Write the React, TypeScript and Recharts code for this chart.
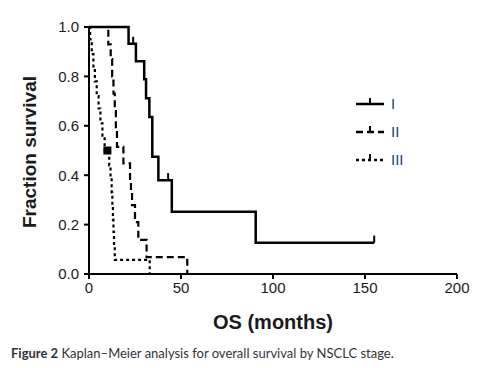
import { LineChart, Line, XAxis, YAxis, Legend } from 'recharts';

// Kaplan–Meier curves (months, survival fraction)
const STAGE_I_MONTHS = [0, 21.5, 25.5, 30, 31, 32.8, 34.4, 37.7, 45, 90.6];
const STAGE_I_SURV = [1, 0.932, 0.861, 0.788, 0.712, 0.636, 0.475, 0.38, 0.252, 0.127];
const STAGE_I_CENSORED = [24, 43, 155];

const STAGE_II_MONTHS = [0, 10.5, 11.8, 12.6, 13.3, 14, 14.6, 15.2, 18.7, 22.3, 22.8, 23.4, 25, 26.8, 31.3, 53.4];
const STAGE_II_SURV = [1, 0.93, 0.87, 0.8, 0.73, 0.66, 0.59, 0.515, 0.448, 0.38, 0.33, 0.279, 0.21, 0.138, 0.068, 0];
const STAGE_II_CENSORED: number[] = [];

const STAGE_III_MONTHS = [0, 0.6, 1.5, 2.4, 3.2, 4.2, 5.2, 6.2, 7.3, 8.5, 11, 11.7, 12.3, 12.7, 13, 13.3, 13.6, 14, 33];
const STAGE_III_SURV = [1, 0.95, 0.89, 0.83, 0.78, 0.72, 0.67, 0.61, 0.56, 0.5, 0.44, 0.39, 0.33, 0.28, 0.22, 0.17, 0.11, 0.057, 0];
const STAGE_III_MARKED = [10];

const MONTH_TICKS = [0, 50, 100, 150, 200];
const SURV_TICKS = [0, 0.2, 0.4, 0.6, 0.8, 1.0];
const STAGE_LABELS = ['I', 'II', 'III'];

type Pt = { t: number; s: number; censor?: boolean; mark?: boolean };

function buildCurve(months: number[], surv: number[], censored: number[] = [], marked: number[] = []): Pt[] {
  const pts: Pt[] = months.map((t, i) => ({ t, s: surv[i] }));
  const survAt = (t: number) => {
    let s = 1;
    months.forEach((m, i) => {
      if (m <= t) s = surv[i];
    });
    return s;
  };
  censored.forEach((t) => pts.push({ t, s: survAt(t), censor: true }));
  marked.forEach((t) => pts.push({ t, s: survAt(t), mark: true }));
  return pts.sort((a, b) => a.t - b.t);
}

const stageI = buildCurve(STAGE_I_MONTHS, STAGE_I_SURV, STAGE_I_CENSORED);
const stageII = buildCurve(STAGE_II_MONTHS, STAGE_II_SURV, STAGE_II_CENSORED);
const stageIII = buildCurve(STAGE_III_MONTHS, STAGE_III_SURV, [], STAGE_III_MARKED);

const renderDot = (props: any) => {
  const { cx, cy, payload, index } = props;
  if (payload.censor) {
    return <line key={index} x1={cx} x2={cx} y1={cy} y2={cy - 7} stroke="#000" strokeWidth={2} />;
  }
  if (payload.mark) {
    return <rect key={index} x={cx - 4} y={cy - 4} width={8} height={8} fill="#000" />;
  }
  return <g key={index} />;
};

const DASHES = ['0', '7 4', '3 3'];

function KmLegend() {
  return (
    <svg width={100} height={80}>
      {STAGE_LABELS.map((label, i) => {
        const y = 10 + i * 28;
        return (
          <g key={label}>
            <line x1={4} x2={32} y1={y} y2={y} stroke="#000" strokeWidth={2.5} strokeDasharray={DASHES[i]} />
            <line x1={18} x2={18} y1={y} y2={y - 6} stroke="#000" strokeWidth={2} />
            <text x={39} y={y + 5} fontSize={15} fill="#23407a" fontFamily="Liberation Sans, Arial, sans-serif">
              {label}
            </text>
          </g>
        );
      })}
    </svg>
  );
}

export default function App() {
  const tickStyle = { fontSize: 15, fill: '#1a1a1a', fontFamily: 'Liberation Sans, Arial, sans-serif' };
  return (
    <div style={{ position: 'absolute', left: 0, top: 0, width: 479, height: 368, background: '#fff' }}>
      <LineChart width={479} height={300} margin={{ top: 27, right: 22, bottom: 0, left: 0 }}>
        <XAxis
          type="number"
          dataKey="t"
          domain={[0, 200]}
          ticks={MONTH_TICKS}
          height={26}
          tickSize={5}
          tickMargin={3}
          tick={tickStyle}
          axisLine={{ stroke: '#000', strokeWidth: 2 }}
          tickLine={{ stroke: '#000', strokeWidth: 2 }}
          allowDataOverflow
        />
        <YAxis
          type="number"
          dataKey="s"
          domain={[0, 1]}
          ticks={SURV_TICKS}
          tickFormatter={(v: number) => v.toFixed(1)}
          width={89}
          tickSize={5}
          tickMargin={5}
          tick={tickStyle}
          axisLine={{ stroke: '#000', strokeWidth: 2 }}
          tickLine={{ stroke: '#000', strokeWidth: 2 }}
        />
        <Legend
          layout="vertical"
          align="center"
          verticalAlign="middle"
          content={() => <KmLegend />}
          wrapperStyle={{ position: 'absolute', left: 352, top: 94, width: 100, height: 80 }}
        />
        <Line data={stageI} dataKey="s" type="stepAfter" stroke="#000" strokeWidth={2.5} dot={renderDot} activeDot={false} isAnimationActive={false} name="I" />
        <Line data={stageII} dataKey="s" type="stepAfter" stroke="#000" strokeWidth={2.2} strokeDasharray="7 4" dot={renderDot} activeDot={false} isAnimationActive={false} name="II" />
        <Line data={stageIII} dataKey="s" type="stepAfter" stroke="#000" strokeWidth={2.2} strokeDasharray="3 3" dot={renderDot} activeDot={false} isAnimationActive={false} name="III" />
      </LineChart>
      <div
        style={{
          position: 'absolute', left: 30, top: 152, transform: 'translate(-50%, -50%) rotate(-90deg)',
          whiteSpace: 'nowrap', fontFamily: 'Liberation Sans, Arial, sans-serif', fontWeight: 'bold', fontSize: 19, color: '#1a1a1a',
        }}
      >
        Fraction survival
      </div>
      <div
        style={{
          position: 'absolute', left: 273, top: 322, transform: 'translate(-50%, -50%)',
          whiteSpace: 'nowrap', fontFamily: 'Liberation Sans, Arial, sans-serif', fontWeight: 'bold', fontSize: 20, color: '#1a1a1a',
        }}
      >
        OS (months)
      </div>
      <div
        style={{
          position: 'absolute', left: 11, top: 345, whiteSpace: 'nowrap',
          fontFamily: 'Lato, sans-serif', fontSize: 13, color: '#333',
        }}
      >
        <b>Figure 2</b> Kaplan–Meier analysis for overall survival by NSCLC stage.
      </div>
    </div>
  );
}
